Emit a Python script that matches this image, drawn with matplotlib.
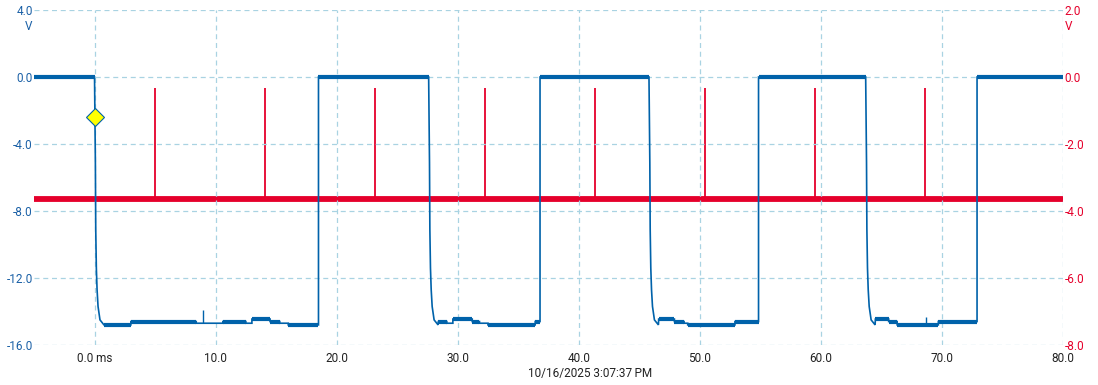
import numpy as np
import matplotlib
matplotlib.use("Agg")
import matplotlib.pyplot as plt

plt.rcParams['font.family'] = ['Roboto', 'DejaVu Sans']

BLUE = '#0062aa'
RED = '#e5002b'
GRID = '#a9d3e2'

# --- data read from the scope capture (time in ms) ---
fall_times = [0.0, 27.6, 45.8, 63.7]
rise_times = [18.5, 36.8, 54.85, 72.9]
# shape of each falling edge (time after edge, volts)
decay_dt = [0.0, 0.07, 0.10, 0.15, 0.21, 0.29, 0.45, 0.78]
decay_v = [0.0, -5.1, -9.1, -11.4, -12.7, -13.7, -14.5, -14.8]

# low-level plateaus (start, end, volts), thick parts of the trace
low_segments = [
    (0.78, 3.0, -14.8), (3.0, 8.4, -14.6), (8.4, 10.6, -14.7),
    (10.6, 12.5, -14.6), (12.5, 13.0, -14.7), (13.0, 14.5, -14.45),
    (14.5, 15.3, -14.6), (15.3, 16.0, -14.7), (16.0, 18.5, -14.8),
    (28.4, 29.1, -14.6), (29.1, 29.6, -14.7), (29.6, 31.2, -14.45),
    (31.2, 31.8, -14.6), (31.8, 32.5, -14.7), (32.5, 36.4, -14.8), (36.4, 36.8, -14.6),
    (46.6, 47.9, -14.45), (47.9, 48.7, -14.6), (48.7, 49.0, -14.7),
    (49.0, 52.9, -14.8), (52.9, 54.85, -14.6),
    (64.5, 65.6, -14.45), (65.6, 66.3, -14.6), (66.3, 69.7, -14.8), (69.7, 72.9, -14.6),
]
thin_segments = [(8.4, 10.6), (12.5, 13.0), (15.3, 16.0), (29.1, 29.6), (31.8, 32.5), (48.7, 49.0)]
high_segments = [(-5.0, 0.0), (18.5, 27.6), (36.8, 45.8), (54.85, 63.7), (72.9, 80.0)]
blue_spikes_t = [9.0, 68.7]
blue_spikes_v = [-13.9, -14.35]

red_base = -3.64
red_spike_t = [5.0, 14.05, 23.15, 32.25, 41.3, 50.4, 59.55, 68.6]
red_spike_top = -0.34

marker_t, marker_v = 0.0, -2.4

x_ticks = [0, 10, 20, 30, 40, 50, 60, 70, 80]
x_labels = ['0.0 ms', '10.0', '20.0', '30.0', '40.0', '50.0', '60.0', '70.0', '80.0']
y_left = [4, 0, -4, -8, -12, -16]
y_right = [2, 0, -2, -4, -6, -8]
timestamp = '10/16/2025 3:07:37\u202fPM'

# --- build the blue trace ---
t = [-5.0]
v = [0.0]
for i, tf in enumerate(fall_times):
    t += [tf + d for d in decay_dt]
    v += decay_v
    tr = rise_times[i]
    for s, e, lv in low_segments:
        if tf < s < tr:
            t += [s, e]
            v += [lv, lv]
    t += [tr, tr]
    v += [v[-1], 0.0]
t.append(80.0)
v.append(0.0)

fig = plt.figure(figsize=(10.98, 3.85), dpi=100)
ax = fig.add_axes([34 / 1098, 1 - 345 / 385, (1063 - 34) / 1098, 335 / 385])
ax2 = ax.twinx()

ax.set_xlim(-5, 80)
ax.set_ylim(-16, 4)
ax2.set_ylim(-8, 2)

for a in (ax, ax2):
    for sp in a.spines.values():
        sp.set_visible(False)
    a.tick_params(length=0)

ax.set_xticks(x_ticks)
ax.set_xticklabels(x_labels, fontsize=8.5, color='#222222')
ax.set_yticks(y_left)
ax.set_yticklabels(['%.1f' % y for y in y_left], fontsize=8.5, color='#1a60a6')
ax2.set_yticks(y_right)
ax2.set_yticklabels(['%.1f' % y for y in y_right], fontsize=8.5, color=RED)
ax.tick_params(axis='x', pad=5)
ax.tick_params(axis='y', pad=1)
ax2.tick_params(axis='y', pad=1)
ax.grid(True, color=GRID, linestyle=(0, (4, 3)), linewidth=0.9)

fig.text(29 / 1098, 1 - 27 / 385, 'V', color='#1a60a6', fontsize=8.5, ha='center', va='center')
fig.text(1069 / 1098, 1 - 27 / 385, 'V', color=RED, fontsize=8.5, ha='center', va='center')
fig.text(590 / 1098, 1 - 374 / 385, timestamp, color='#222222', fontsize=8.5, ha='center', va='center')

# red trace on the right axis, underneath the blue one
ax.set_zorder(ax2.get_zorder() + 1)
ax.patch.set_visible(False)
ax2.hlines(red_base, -5, 80, color=RED, linewidth=4.2)
ax2.vlines(red_spike_t, red_base, red_spike_top, color=RED, linewidth=1.3)

# blue trace
ax.plot(t, v, color=BLUE, linewidth=1.2, solid_joinstyle='miter')
for s, e in high_segments:
    ax.hlines(0, s, e, color=BLUE, linewidth=3.0)
for s, e, lv in low_segments:
    if (s, e) not in thin_segments:
        ax.hlines(lv, s, e, color=BLUE, linewidth=3.0)
ax.vlines(blue_spikes_t, [-14.7, -14.8], blue_spikes_v, color=BLUE, linewidth=1.0)

ax.plot([marker_t], [marker_v], marker='D', markersize=9, color='#ffff00',
        markeredgecolor=BLUE, markeredgewidth=0.8, zorder=5)

fig.savefig('out.png', dpi=100)
